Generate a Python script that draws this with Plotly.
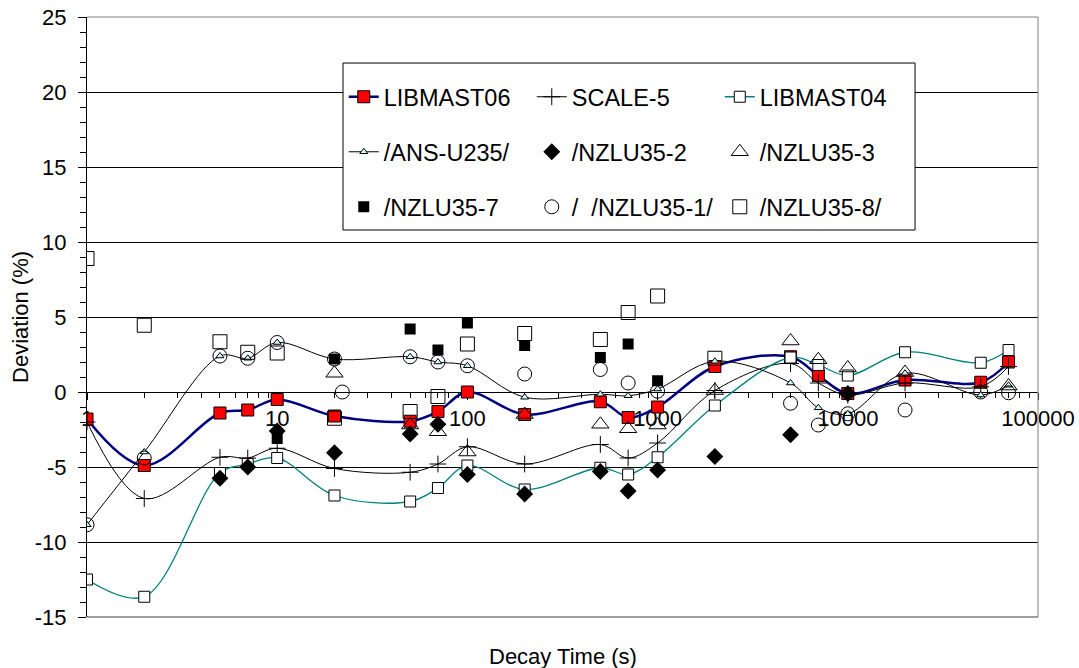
import plotly.graph_objects as go

# ---------------- data ----------------
decay_time = [1, 2, 5, 7, 10, 20, 50, 70, 100, 200, 500, 700, 1000,
              2000, 5000, 7000, 10000, 20000, 50000, 70000]

libmast06 = [-1.8, -4.9, -1.4, -1.2, -0.5, -1.6, -1.95, -1.3, 0.0, -1.5, -0.65, -1.7, -1.0,
             1.7, 2.35, 1.1, -0.1, 0.8, 0.65, 2.0]
scale5 = [-2.0, -7.1, -4.35, -4.4, -3.75, -5.1, -5.35, -4.8, -3.65, -4.8, -3.5, -4.4, -3.4,
          0.1, 1.9, 0.6, -0.2, 0.6, 0.35, 1.7]
libmast04 = [-12.5, -13.65, -5.4, -4.8, -4.4, -6.9, -7.3, -6.4, -4.9, -6.5, -5.05, -5.5, -4.35,
             -0.9, 2.3, 1.8, 1.1, 2.65, 1.95, 2.8]
ans_u235 = [-8.85, -4.0, 2.4, 2.25, 3.3, 2.2, 2.35, 2.0, 1.75, -0.35, -0.15, -0.25, 0.2,
            2.05, 0.6, -1.05, -1.45, 1.25, -0.2, 0.45]

nzlu2_t = [5, 7, 10, 20, 50, 70, 100, 200, 500, 700, 1000, 2000, 5000, 10000]
nzlu2 = [-5.75, -5.0, -2.6, -4.05, -2.8, -2.15, -5.5, -6.8, -5.3, -6.6, -5.2, -4.3, -2.85, -0.1]

nzlu3_t = [20, 50, 70, 100, 200, 500, 700, 1000, 2000, 5000, 7000, 10000, 20000, 70000]
nzlu3 = [1.25, -2.2, -2.65, -4.0, -1.5, -2.15, -2.45, -2.2, 0.1, 3.4, 2.15, 1.6, 1.3, 0.4]

nzlu7_t = [10, 20, 50, 70, 100, 200, 500, 700, 1000]
nzlu7 = [-3.1, 2.2, 4.2, 2.8, 4.6, 3.1, 2.3, 3.2, 0.75]

nzlu1_t = [1, 2, 5, 7, 10, 20, 22, 50, 70, 100, 200, 500, 700, 1000,
           5000, 7000, 10000, 20000, 50000, 70000]
nzlu1 = [-8.85, -4.4, 2.4, 2.25, 3.3, 2.2, 0.0, 2.35, 2.0, 1.75, 1.2, 1.5, 0.6, 0.05,
         -0.75, -2.2, -1.45, -1.2, 0.0, -0.05]

nzlu8_t = [1, 2, 5, 7, 10, 20, 50, 70, 100, 200, 500, 700, 1000, 2000]
nzlu8 = [8.9, 4.45, 3.35, 2.65, 2.6, -1.75, -1.3, -0.3, 3.2, 3.9, 3.5, 5.3, 6.4, 2.25]

x_tickvals = [1, 10, 100, 1000, 10000, 100000]
x_ticktext = ["1", "10", "100", "1000", "10000", "100000"]
y_tickvals = [-15, -10, -5, 0, 5, 10, 15, 20, 25]
y_ticktext = ["-15", "-10", "-5", "0", "5", "10", "15", "20", "25"]

FONT = "Liberation Sans, Arial, sans-serif"
FS = 22
FS_LEG = 23.5

fig = go.Figure()

def line_trace(x, y, name, lcolor, lwidth, marker, legend):
    fig.add_trace(go.Scatter(x=x, y=y, name=name, mode="lines+markers",
                             line=dict(color=lcolor, width=lwidth, shape="spline", smoothing=1),
                             marker=marker, legend=legend))

def point_trace(x, y, name, marker, legend):
    fig.add_trace(go.Scatter(x=x, y=y, name=name, mode="markers",
                             marker=marker, legend=legend))

line_trace(decay_time, libmast06, "LIBMAST06", "#000080", 2.5,
           dict(symbol="square", size=12, color="#FF0000", line=dict(color="black", width=1)), "legend")
line_trace(decay_time, scale5, "SCALE-5", "black", 1,
           dict(symbol="cross-thin", size=12, color="black", line=dict(color="black", width=1)), "legend")
line_trace(decay_time, libmast04, "LIBMAST04", "#008080", 1.3,
           dict(symbol="square", size=11, color="white", line=dict(color="black", width=1)), "legend")
line_trace(decay_time, ans_u235, "/ANS-U235/", "black", 1,
           dict(symbol="triangle-up", size=7, color="#CCFFFF", line=dict(color="black", width=1)), "legend2")
point_trace(nzlu2_t, nzlu2, "/NZLU35-2", dict(symbol="diamond", size=13, color="black"), "legend2")
point_trace(nzlu3_t, nzlu3, "/NZLU35-3",
            dict(symbol="triangle-up-open", size=15, color="black", line=dict(width=1)), "legend2")
point_trace(nzlu7_t, nzlu7, "/NZLU35-7", dict(symbol="square", size=11, color="black"), "legend3")
point_trace(nzlu1_t, nzlu1, "/  /NZLU35-1/",
            dict(symbol="circle-open", size=14, color="black", line=dict(width=1)), "legend3")
point_trace(nzlu8_t, nzlu8, "/NZLU35-8/",
            dict(symbol="square-open", size=14, color="black", line=dict(width=1)), "legend3")

minor_x = [m * 10 ** d for d in range(0, 5) for m in range(2, 10)]

fig.update_layout(
    width=1079, height=668,
    margin=dict(l=87, r=41, t=17, b=51),
    paper_bgcolor="white", plot_bgcolor="white",
    font=dict(family=FONT, size=FS, color="black"),
    xaxis=dict(type="log", range=[0, 5], anchor="free", position=0.375, automargin=False,
               layer="below traces", ticklabeloverflow="allow",
               showline=True, linecolor="black", linewidth=1,
               ticks="outside", ticklen=7, tickcolor="black",
               tickvals=x_tickvals, ticktext=x_ticktext,
               tickfont=dict(size=FS), ticklabelstandoff=0,
               showgrid=False, zeroline=False,
               minor=dict(tickvals=minor_x, ticks="outside", ticklen=5,
                          tickcolor="black", showgrid=False)),
    yaxis=dict(range=[-15, 25], automargin=False,
               layer="below traces", ticklabeloverflow="allow",
               showline=True, linecolor="black", linewidth=1,
               ticks="outside", ticklen=8, tickcolor="black",
               tickvals=y_tickvals, ticktext=y_ticktext, tickfont=dict(size=FS),
               ticklabelstandoff=7,
               showgrid=True, gridcolor="black", gridwidth=1, zeroline=False,
               minor=dict(dtick=1, ticks="outside", ticklen=6, tickcolor="black",
                          showgrid=False)),
    showlegend=True,
)

leg_common = dict(orientation="h", xanchor="left", yanchor="middle",
                  entrywidth=143, entrywidthmode="pixels",
                  bgcolor="rgba(0,0,0,0)", borderwidth=0,
                  font=dict(family=FONT, size=FS_LEG, color="black"))
fig.update_layout(
    legend=dict(x=0.270, y=0.8667, **leg_common),
    legend2=dict(x=0.270, y=0.775, **leg_common),
    legend3=dict(x=0.270, y=0.6833, **leg_common),
)

shapes = [
    # legend box
    dict(type="rect", xref="paper", yref="paper", x0=0.2692, x1=0.8707, y0=0.645, y1=0.9233,
         line=dict(color="black", width=1), fillcolor="white", layer="above"),
    # top and right border of plot area
    dict(type="line", xref="paper", yref="paper", x0=0, x1=1, y0=1, y1=1,
         line=dict(color="#808080", width=1)),
    dict(type="line", xref="paper", yref="paper", x0=1, x1=1, y0=0, y1=1,
         line=dict(color="#808080", width=1)),
    dict(type="line", xref="paper", yref="paper", x0=0, x1=1, y0=0, y1=0,
         line=dict(color="#404040", width=1)),
]
fig.update_layout(shapes=shapes)

fig.add_annotation(text="Deviation (%)", xref="paper", yref="paper", x=-0.0705, y=0.5,
                   textangle=-90, showarrow=False, xanchor="center", yanchor="middle",
                   font=dict(size=FS))
fig.add_annotation(text="Decay Time (s)", xref="paper", yref="paper", x=0.5, y=-0.065,
                   showarrow=False, xanchor="center", yanchor="middle", font=dict(size=FS))

fig.write_html("out.html", config={"displayModeBar": False},
               post_script="document.body.style.margin='0';")
